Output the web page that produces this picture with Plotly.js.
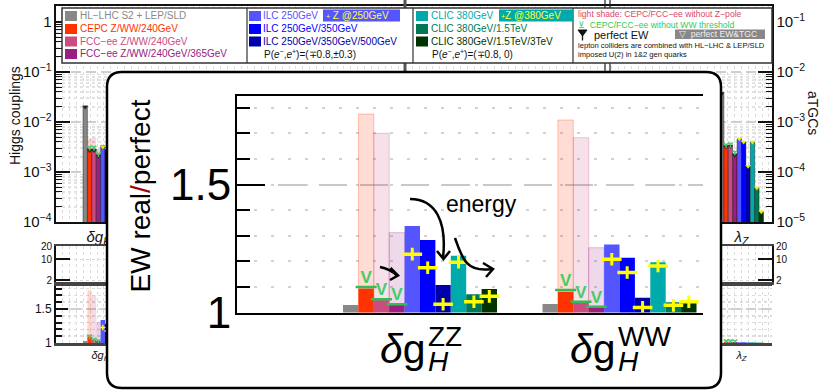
<!DOCTYPE html>
<html><head><meta charset="utf-8">
<script src="https://cdn.plot.ly/plotly-3.0.1.min.js"></script>
<style>
html,body{margin:0;padding:0;background:#fff;}
#wrap{position:relative;width:821px;height:390px;overflow:hidden;}
#bg,#inset{position:absolute;left:0;top:0;width:821px;height:390px;}
</style></head><body>
<div id="wrap"><div id="bg"></div><div id="inset"></div></div>
<script>
const W = 821, H = 390;
const FONT = '"Liberation Sans", Arial, Helvetica, sans-serif';

// ---------------- data ----------------
// colliders, in bar order inside each group
const seriesNames = ['HL−LHC S2 + LEP/SLD', 'CEPC Z/WW/240GeV', 'FCC−ee Z/WW/240GeV', 'FCC−ee Z/WW/240GeV/365GeV',
  'ILC 250GeV', 'ILC 250GeV/350GeV', 'ILC 250GeV/350GeV/500GeV',
  'CLIC 380GeV', 'CLIC 380GeV/1.5TeV', 'CLIC 380GeV/1.5TeV/3TeV'];
const seriesColors = ['#888888', '#ff3300', '#cc4c80', '#992080', '#5555ff', '#0000ff', '#0000aa', '#00aaaa', '#007755', '#003300'];
const circularIdx = [1, 2, 3];          // CEPC / FCC-ee runs
const linearIdx = [4, 5, 6, 7, 8, 9];   // ILC / CLIC runs

// zoomed panel: ratio of real to perfect EW precision
const insetCatSub = ['H', 'H'];
const insetCatSup = ['ZZ', 'WW'];
const ratioZZ = [1.029, 1.094, 1.049, 1.029, 1.338, 1.283, 1.107, 1.222, 1.071, 1.092];
const ratioWW = [1.033, 1.081, 1.040, 1.019, 1.266, 1.214, 1.058, 1.196, 1.040, 1.049];
const ratioNoZpoleZZ = [1.775, 1.700, 1.312];
const ratioNoZpoleWW = [1.752, 1.683, 1.253];
const ratioNoWWthrZZ = [1.100, 1.052, 1.032];
const ratioNoWWthrWW = [1.088, 1.042, 1.022];
const ratioZpoleZZ = [1.228, 1.175, 1.032, 1.196, 1.042, 1.063];
const ratioZpoleWW = [1.208, 1.156, 1.020, 1.182, 1.028, 1.042];

// full chart behind: Higgs couplings (left axis) and aTGCs (right axis)
const bgCats = ['<i>δg</i><sub><i>H</i></sub><sup>ZZ</sup>', '<i>λ</i><sub><i>Z</i></sub>'];
const bgCatsSmall = ['<i>δg</i><sub><i>H</i></sub><sup>ZZ</sup>', '<i>λ</i><sub><i>Z</i></sub>'];
const bgCatPos = [0, 13];
const couplingZZ = [0.021, 0.0029, 0.0029, 0.0022, 0.0034, 0.0031, 0.0026, 0.0036, 0.0024, 0.0021];
const couplingNoZpoleZZ = [0.0046, 0.0049, 0.0029];
const couplingNoWWthrZZ = [0.0031, 0.0031, 0.0023];
const couplingPerfectZZ = [0.020, 0.0027, 0.0027, 0.0021];
const couplingZpoleZZ = [0.0032, 0.0029, 0.0024, 0.0033, 0.0023, 0.0020];
const tgcLambdaZ = [0.0038, 3.3e-4, 3.4e-4, 2.3e-4, 4.6e-4, 4.0e-4, 1.3e-4, 4.0e-4, 4.8e-5, 1.6e-5];
const tgcNoWWthrLambdaZ = [3.5e-4, 3.6e-4, 2.5e-4];
const tgcPerfectLambdaZ = [0.0037, 3.2e-4, 3.3e-4, 2.2e-4];
const tgcZpoleLambdaZ = [4.6e-4, 4.0e-4, 1.3e-4, 4.0e-4, 4.8e-5, 1.6e-5];
const ratioLambdaZ = [1.0, 1.02, 1.02, 1.015, 1.01, 1.008, 1.005, 1.01, 1.005, 1.004];
const ratioNoWWthrLambdaZ = [1.03, 1.03, 1.025];
const smallTickText = ['2', '10', '20'];
const smallTickPos = [2, 23, 36];

// ---------------- helpers ----------------
const px = p => p / W, py = p => 1 - p / H;
const P = (x, y) => `${px(x)},${py(y)}`;
function fade(hex, a) { const n = parseInt(hex.slice(1), 16); return `rgba(${n >> 16},${(n >> 8) & 255},${n & 255},${a})`; }
const slot = (c, k, bw) => c + (k - 4.5) * bw;

// ================= background chart =================
const bgUnit = 48.96, bgOrigin = 105;
const bgRange = [(56 - bgOrigin) / bgUnit, (772 - bgOrigin) / bgUnit];
const bwBg = 4.4 / bgUnit;
const bgLine = { color: 'rgba(0,0,0,0.55)', width: 0.7 };
const bgTraces = [];
function bgBar(x, y, k, xa, ya, color, line) {
  return { type: 'bar', x, y, offset: (k - 5) * bwBg, width: bwBg, xaxis: xa, yaxis: ya, marker: { color, line: line || bgLine } };
}
// top panel
circularIdx.forEach((k, j) => bgTraces.push(bgBar([bgCatPos[0]], [couplingNoZpoleZZ[j]], k, 'x', 'y', fade(seriesColors[k], 0.22), { width: 0 })));
seriesColors.forEach((c, k) => bgTraces.push(bgBar([bgCatPos[0]], [couplingZZ[k]], k, 'x', 'y', c)));
seriesColors.forEach((c, k) => bgTraces.push(bgBar([bgCatPos[1]], [tgcLambdaZ[k]], k, 'x', 'y2', c)));
// middle panel (ratios above 2): nothing falls in it for these groups
bgTraces.push({ type: 'bar', x: [], y: [], xaxis: 'x2', yaxis: 'y3' });
bgTraces.push({ type: 'bar', x: [], y: [], xaxis: 'x2', yaxis: 'y5' });
// lower ratio panel
circularIdx.forEach((k, j) => bgTraces.push(bgBar([bgCatPos[0]], [ratioNoZpoleZZ[j]], k, 'x3', 'y4', fade(seriesColors[k], 0.2), { width: 0 })));
seriesColors.forEach((c, k) => bgTraces.push(bgBar(bgCatPos, [ratioZZ[k], ratioLambdaZ[k]], k, 'x3', 'y4', c, { width: 0 })));

function markerTrace(xs, ys, xa, ya, symbol, size, color, lw) {
  return { type: 'scatter', mode: 'markers', x: xs, y: ys, xaxis: xa, yaxis: ya,
    marker: { symbol, size, color, line: { color, width: lw } } };
}
// perfect-EW markers
bgTraces.push(markerTrace(couplingPerfectZZ.map((v, k) => slot(bgCatPos[0], k, bwBg)), couplingPerfectZZ, 'x', 'y', 'triangle-down', 5, '#222', 0));
bgTraces.push(markerTrace(tgcPerfectLambdaZ.map((v, k) => slot(bgCatPos[1], k, bwBg)), tgcPerfectLambdaZ, 'x', 'y2', 'triangle-down', 5, '#222', 0));
// without WW threshold
bgTraces.push(markerTrace(circularIdx.map(k => slot(bgCatPos[0], k, bwBg)), couplingNoWWthrZZ, 'x', 'y', 'y-down', 4, '#44cc66', 1.5));
bgTraces.push(markerTrace(circularIdx.map(k => slot(bgCatPos[1], k, bwBg)), tgcNoWWthrLambdaZ, 'x', 'y2', 'y-down', 4, '#44cc66', 1.5));
bgTraces.push(markerTrace(circularIdx.map(k => slot(bgCatPos[0], k, bwBg)).concat(circularIdx.map(k => slot(bgCatPos[1], k, bwBg))),
  ratioNoWWthrZZ.concat(ratioNoWWthrLambdaZ), 'x3', 'y4', 'y-down', 4, '#44cc66', 1.5));
// with Z-pole
bgTraces.push(markerTrace(linearIdx.map(k => slot(bgCatPos[0], k, bwBg)), couplingZpoleZZ, 'x', 'y', 'triangle-down', 5, '#eeee00', 0));
bgTraces.push(markerTrace(linearIdx.map(k => slot(bgCatPos[1], k, bwBg)), tgcZpoleLambdaZ, 'x', 'y2', 'triangle-down', 5, '#eeee00', 0));
bgTraces.push(markerTrace(linearIdx.map(k => slot(bgCatPos[0], k, bwBg)), ratioZpoleZZ, 'x3', 'y4', 'cross-thin', 4, '#ffff00', 1.5));

const frameX = (anchor, extra) => Object.assign({
  domain: [px(56), px(772)], range: bgRange, anchor, zeroline: false,
  showline: true, mirror: true, linecolor: '#111', linewidth: 2,
  ticks: '', showgrid: false,
  minor: { tickmode: 'linear', tick0: bgRange[0], dtick: 0.14, showgrid: true, gridcolor: '#dcdcdc', griddash: 'dot', gridwidth: 1, ticks: '' }
}, extra);
const logY = (extra) => Object.assign({
  type: 'log', dtick: 1, exponentformat: 'power', showexponent: 'all', zeroline: false,
  tickfont: { size: 12, family: FONT, color: '#111' },
  ticks: 'inside', ticklen: 14, tickwidth: 2, tickcolor: '#111',
  showline: true, linecolor: '#111', linewidth: 2,
  minor: { ticks: 'inside', ticklen: 6, tickwidth: 1, tickcolor: '#111', dtick: 'D1', showgrid: true, gridcolor: '#e2e2e2', griddash: 'dot' }
}, extra);

const legendShapes = [];
const legendAnn = [];
function rect(x0, y0, x1, y1, fill, lineColor, lw) {
  legendShapes.push({ type: 'rect', xref: 'paper', yref: 'paper', x0: px(x0), x1: px(x1), y0: py(y1), y1: py(y0),
    fillcolor: fill, line: { color: lineColor || fill, width: lw || 0 }, layer: 'above' });
}
function vline(x, y0, y1, color, w) {
  legendShapes.push({ type: 'line', xref: 'paper', yref: 'paper', x0: px(x), x1: px(x), y0: py(y0), y1: py(y1), line: { color, width: w }, layer: 'above' });
}
function label(x, y, text, size, color, extra) {
  legendAnn.push(Object.assign({ xref: 'paper', yref: 'paper', x: px(x), y: py(y), xanchor: 'left', yanchor: 'middle',
    text, showarrow: false, font: { size, color, family: FONT }, borderpad: 0 }, extra || {}));
}
// section separators of the full chart
vline(405, 0, 222, '#555', 3);
vline(605, 0, 222, '#222', 1.2);
vline(610, 0, 222, '#222', 1.2);
// legend box
rect(62, 8, 772, 63, '#ffffff', '#333', 1.5);
vline(247, 8, 63, '#333', 1.2);
vline(413, 8, 63, '#333', 1.2);
vline(573, 8, 63, '#333', 1.2);
const rowY = [16, 29, 41.5, 54];
const colSw = [65, 249, 416];
const colTx = [79, 262, 430];
seriesNames.forEach((name, k) => {
  const col = k < 4 ? 0 : (k < 7 ? 1 : 2);
  const row = k < 4 ? k : (k < 7 ? k - 4 : k - 7);
  rect(colSw[col], rowY[row] - 5, colSw[col] + 12, rowY[row] + 5, seriesColors[k]);
  label(colTx[col], rowY[row], name, 10, seriesColors[k]);
});
rect(323, 9.5, 400, 21.5, '#5555ff');
label(325, 16, '<span style="font-size:7px">+</span> Z @250GeV', 10, '#ffff33');
rect(499, 9.5, 573, 21.5, '#00aaaa');
label(500, 16, '<span style="font-size:7px">+</span>Z @380GeV', 10, '#ffff33');
label(263, 54, 'P(<i>e</i><sup>−</sup>,<i>e</i><sup>+</sup>)=(∓0.8,±0.3)', 10, '#111');
label(431, 54, 'P(<i>e</i><sup>−</sup>,<i>e</i><sup>+</sup>)=(∓0.8, 0)', 10, '#111');
label(577, 14.5, 'light shade: CEPC/FCC−ee without Z−pole', 8.6, '#e0456a');
label(577, 24.5, '⊻  CEPC/FCC−ee without WW threshold', 8.6, '#33cc55');
legendShapes.push({ type: 'path', xref: 'paper', yref: 'paper', path: `M${P(578, 30)}L${P(587, 30)}L${P(582.5, 36)}Z`, fillcolor: '#111', line: { color: '#111', width: 1 }, layer: 'above' });
vline(582.5, 35, 40.5, '#111', 1.3);
label(593, 34.5, 'perfect EW', 11, '#111');
rect(675, 29.5, 765, 39, '#888888');
label(678, 34.3, '▽  perfect EW&TGC', 8.6, '#f0f0f0');
label(577, 45, 'lepton colliders are combined with HL−LHC & LEP/SLD', 7.6, '#111');
label(577, 54.5, 'imposed U(2) in 1&2 gen quarks', 7.6, '#111');
// side titles
legendAnn.push({ xref: 'paper', yref: 'paper', x: px(15), y: py(116), xanchor: 'center', yanchor: 'middle', text: 'Higgs couplings', textangle: -90, showarrow: false,
  font: { size: 14, family: FONT, color: '#111' } });
legendAnn.push({ xref: 'paper', yref: 'paper', x: px(813), y: py(113), xanchor: 'center', yanchor: 'middle', text: 'aTGCs', textangle: 90, showarrow: false,
  font: { size: 14, family: FONT, color: '#111' } });

const bgLayout = {
  width: W, height: H, margin: { l: 0, r: 0, t: 0, b: 0 },
  paper_bgcolor: '#fff', plot_bgcolor: '#fff', showlegend: false, barmode: 'overlay',
  font: { family: FONT, color: '#111' },
  xaxis: frameX('y', { tickvals: bgCatPos, ticktext: bgCats, tickfont: { size: 15, family: FONT } }),
  yaxis: logY({ domain: [py(222), py(6)], range: [-4, 0.32], anchor: 'x',
    showgrid: true, gridcolor: '#cfcfcf', griddash: '10px,5px', gridwidth: 1.5 }),
  yaxis2: logY({ overlaying: 'y', side: 'right', anchor: 'x', range: [-5, -0.68], showgrid: false,
    minor: { ticks: 'inside', ticklen: 6, tickwidth: 1, tickcolor: '#111', dtick: 'D1', showgrid: false } }),
  xaxis2: frameX('y3', { showticklabels: false, linecolor: '#444', linewidth: 2.5 }),
  yaxis3: { domain: [py(282), py(246)], range: [0, 36], anchor: 'x2', tickmode: 'array', tickvals: smallTickPos, ticktext: smallTickText,
    tickfont: { size: 10, family: FONT }, ticks: 'inside', ticklen: 14, tickwidth: 2, tickcolor: '#111',
    showline: true, linecolor: '#111', linewidth: 2, showgrid: true, gridcolor: '#d8d8d8', griddash: 'dot', zeroline: false },
  yaxis5: { overlaying: 'y3', side: 'right', anchor: 'x2', range: [0, 36], tickmode: 'array', tickvals: smallTickPos, ticktext: smallTickText,
    tickfont: { size: 10, family: FONT }, ticks: 'inside', ticklen: 14, tickwidth: 2, tickcolor: '#111',
    showline: true, linecolor: '#111', linewidth: 2, showgrid: false, zeroline: false },
  xaxis3: frameX('y4', { tickvals: bgCatPos, ticktext: bgCatsSmall, tickfont: { size: 11, family: FONT }, linecolor: '#444', linewidth: 2.5 }),
  yaxis4: { domain: [py(343), py(286)], range: [1, 1.838], anchor: 'x3', tickmode: 'array', tickvals: [1, 1.5], ticktext: ['1', '1.5'],
    tickfont: { size: 12, family: FONT }, ticks: 'inside', ticklen: 12, tickwidth: 2, tickcolor: '#111',
    showline: true, linecolor: '#111', linewidth: 2, zeroline: false,
    showgrid: true, gridcolor: '#cfcfcf', griddash: '10px,5px', gridwidth: 1.5,
    minor: { tickmode: 'linear', tick0: 1, dtick: 0.1, ticks: 'inside', ticklen: 6, tickcolor: '#111', showgrid: true, gridcolor: '#dcdcdc', griddash: 'dot' } },
  yaxis6: { overlaying: 'y4', side: 'right', anchor: 'x3', range: [1, 1.838], tickmode: 'array', tickvals: [1, 1.5], ticktext: ['1', '1.5'],
    tickfont: { size: 12, family: FONT }, ticks: 'inside', ticklen: 12, tickwidth: 2, tickcolor: '#111',
    showline: true, linecolor: '#111', linewidth: 2, zeroline: false, showgrid: false,
    minor: { tickmode: 'linear', tick0: 1, dtick: 0.1, ticks: 'inside', ticklen: 6, tickcolor: '#111' } },
  shapes: legendShapes,
  annotations: legendAnn
};

// ================= zoomed panel =================
const inUnit = 199.5, inOrigin = 420;
const yPerUnit = 256, yBase = 312.5, yTopPx = 96;
const bwIn = 15.4 / inUnit;
const inTraces = [];
circularIdx.forEach((k, j) => inTraces.push({ type: 'bar', x: [0, 1], y: [ratioNoZpoleZZ[j], ratioNoZpoleWW[j]],
  offset: (k - 5) * bwIn, width: bwIn, marker: { color: fade(seriesColors[k], 0.17), line: { color: fade(seriesColors[k], 0.28), width: 1 } } }));
seriesColors.forEach((c, k) => inTraces.push({ type: 'bar', x: [0, 1], y: [ratioZZ[k], ratioWW[k]],
  offset: (k - 5) * bwIn, width: bwIn, marker: { color: c, line: { width: 0 } } }));
// without WW threshold: green V standing on a bar line
const gx = [], gy = [];
circularIdx.forEach((k, j) => { gx.push(slot(0, k, bwIn), slot(1, k, bwIn)); gy.push(ratioNoWWthrZZ[j], ratioNoWWthrWW[j]); });
inTraces.push({ type: 'scatter', mode: 'markers', x: gx, y: gy,
  marker: { symbol: 'line-ew', size: 15, color: '#33bb55', line: { color: '#33bb55', width: 2.5 } } });
inTraces.push({ type: 'scatter', mode: 'text', x: gx, y: gy, text: gx.map(() => '<b>V</b>'), textposition: 'top center',
  textfont: { size: 17, color: '#44cc66', family: FONT }, cliponaxis: false });
// with Z-pole run: yellow cross
const yx = [], yy = [];
linearIdx.forEach((k, j) => { yx.push(slot(0, k, bwIn), slot(1, k, bwIn)); yy.push(ratioZpoleZZ[j], ratioZpoleWW[j]); });
inTraces.push({ type: 'scatter', mode: 'markers', x: yx, y: yy, marker: { symbol: 'line-ew', size: 14, color: '#ffff00', line: { color: '#ffff00', width: 3.5 } } });
inTraces.push({ type: 'scatter', mode: 'markers', x: yx, y: yy, marker: { symbol: 'line-ns', size: 9, color: '#ffff00', line: { color: '#ffff00', width: 3 } } });

// category labels with stacked sub/superscripts
const MAIN = 41, SIDE = 28;
const ctx = document.createElement('canvas').getContext('2d');
function textWidth(s, size, style) { ctx.font = `${style || ''} ${size}px "Liberation Sans"`; return ctx.measureText(s).width; }
const inAnn = [];
insetCatSup.forEach((sup, i) => {
  const wMain = textWidth('δ', MAIN, 'italic') + textWidth('g', MAIN);
  const wSide = Math.max(textWidth(sup, SIDE), textWidth(insetCatSub[i], SIDE, 'italic'));
  const left = -(wMain + 3 + wSide) / 2;
  const base = { xref: 'x', yref: 'paper', x: i, xanchor: 'left', yanchor: 'middle', showarrow: false, borderpad: 0 };
  inAnn.push(Object.assign({}, base, { y: py(349), xshift: left, text: '<i>δ</i>g', font: { size: MAIN, family: FONT, color: '#000' } }));
  inAnn.push(Object.assign({}, base, { y: py(361), xshift: left + wMain + 3, text: `<i>${insetCatSub[i]}</i>`, font: { size: SIDE, family: FONT, color: '#000' } }));
  inAnn.push(Object.assign({}, base, { y: py(336), xshift: left + wMain + 3, text: sup, font: { size: SIDE, family: FONT, color: '#000' } }));
});
inAnn.push({ xref: 'paper', yref: 'paper', x: px(140), y: py(196.5), xanchor: 'center', yanchor: 'middle', textangle: -90, showarrow: false,
  text: 'EW real<span style="color:#a00000">/</span>perfect', font: { size: 28, family: FONT, color: '#000' } });
inAnn.push({ xref: 'paper', yref: 'paper', x: px(482), y: py(204), xanchor: 'center', yanchor: 'middle', showarrow: false, text: 'energy',
  font: { size: 23, family: FONT, color: '#000' } });

const arrowLine = { color: '#000', width: 2.5 };
const pathShape = (d, layer) => ({ type: 'path', xref: 'paper', yref: 'paper', path: d, line: arrowLine, layer: layer || 'above' });
const inShapes = [
  { type: 'path', xref: 'paper', yref: 'paper', layer: 'below', fillcolor: '#ffffff', line: { color: '#000', width: 2.5 },
    path: `M${P(122, 72)}L${P(706, 72)}Q${P(721, 72)} ${P(721, 87)}L${P(721, 373)}Q${P(721, 388)} ${P(706, 388)}` +
          `L${P(122, 388)}Q${P(107, 388)} ${P(107, 373)}L${P(107, 87)}Q${P(107, 72)} ${P(122, 72)}Z` },
  pathShape(`M${P(380, 267)}Q${P(390, 269)} ${P(397, 275.5)}`),
  pathShape(`M${P(390.5, 268)}L${P(398, 275.5)}L${P(390, 280)}`),
  pathShape(`M${P(410, 199)}C${P(436, 199)} ${P(447, 222)} ${P(443, 258)}`),
  pathShape(`M${P(437, 251)}L${P(443.5, 259)}L${P(450, 251)}`),
  pathShape(`M${P(455, 238)}C${P(462, 258)} ${P(466, 273)} ${P(492, 269)}`),
  pathShape(`M${P(483, 263)}L${P(493, 269)}L${P(486, 277)}`)
];

const inLayout = {
  width: W, height: H, margin: { l: 0, r: 0, t: 0, b: 0 },
  paper_bgcolor: 'rgba(0,0,0,0)', plot_bgcolor: 'rgba(0,0,0,0)', showlegend: false, barmode: 'overlay',
  font: { family: FONT, color: '#000' },
  xaxis: { domain: [px(237), px(703)], range: [(237 - inOrigin) / inUnit, (703 - inOrigin) / inUnit],
    showline: true, mirror: true, linecolor: '#000', linewidth: 2.5, ticks: '', showticklabels: false, showgrid: false, zeroline: false },
  yaxis: { domain: [py(yBase), py(yTopPx)], range: [1, 1 + (yBase - yTopPx) / yPerUnit],
    tickmode: 'array', tickvals: [1, 1.5], ticktext: ['1', '1.5'], tickfont: { size: 44, family: FONT, color: '#000' },
    ticks: 'inside', ticklen: 28, tickwidth: 2, tickcolor: '#000', ticklabelstandoff: -5,
    showline: true, linecolor: '#000', linewidth: 2, zeroline: false,
    showgrid: true, gridcolor: '#c8c8c8', gridwidth: 2, griddash: '28px,13px',
    minor: { tickmode: 'linear', tick0: 1, dtick: 0.1, ticks: 'inside', ticklen: 13, tickwidth: 2, tickcolor: '#000',
      showgrid: true, gridcolor: '#d2d2d2', gridwidth: 2, griddash: '3px,14px' } },
  shapes: inShapes,
  annotations: inAnn
};

const cfg = { staticPlot: true, displayModeBar: false };
Plotly.newPlot('bg', bgTraces, bgLayout, cfg);
Plotly.newPlot('inset', inTraces, inLayout, cfg);
</script>
</body></html>
